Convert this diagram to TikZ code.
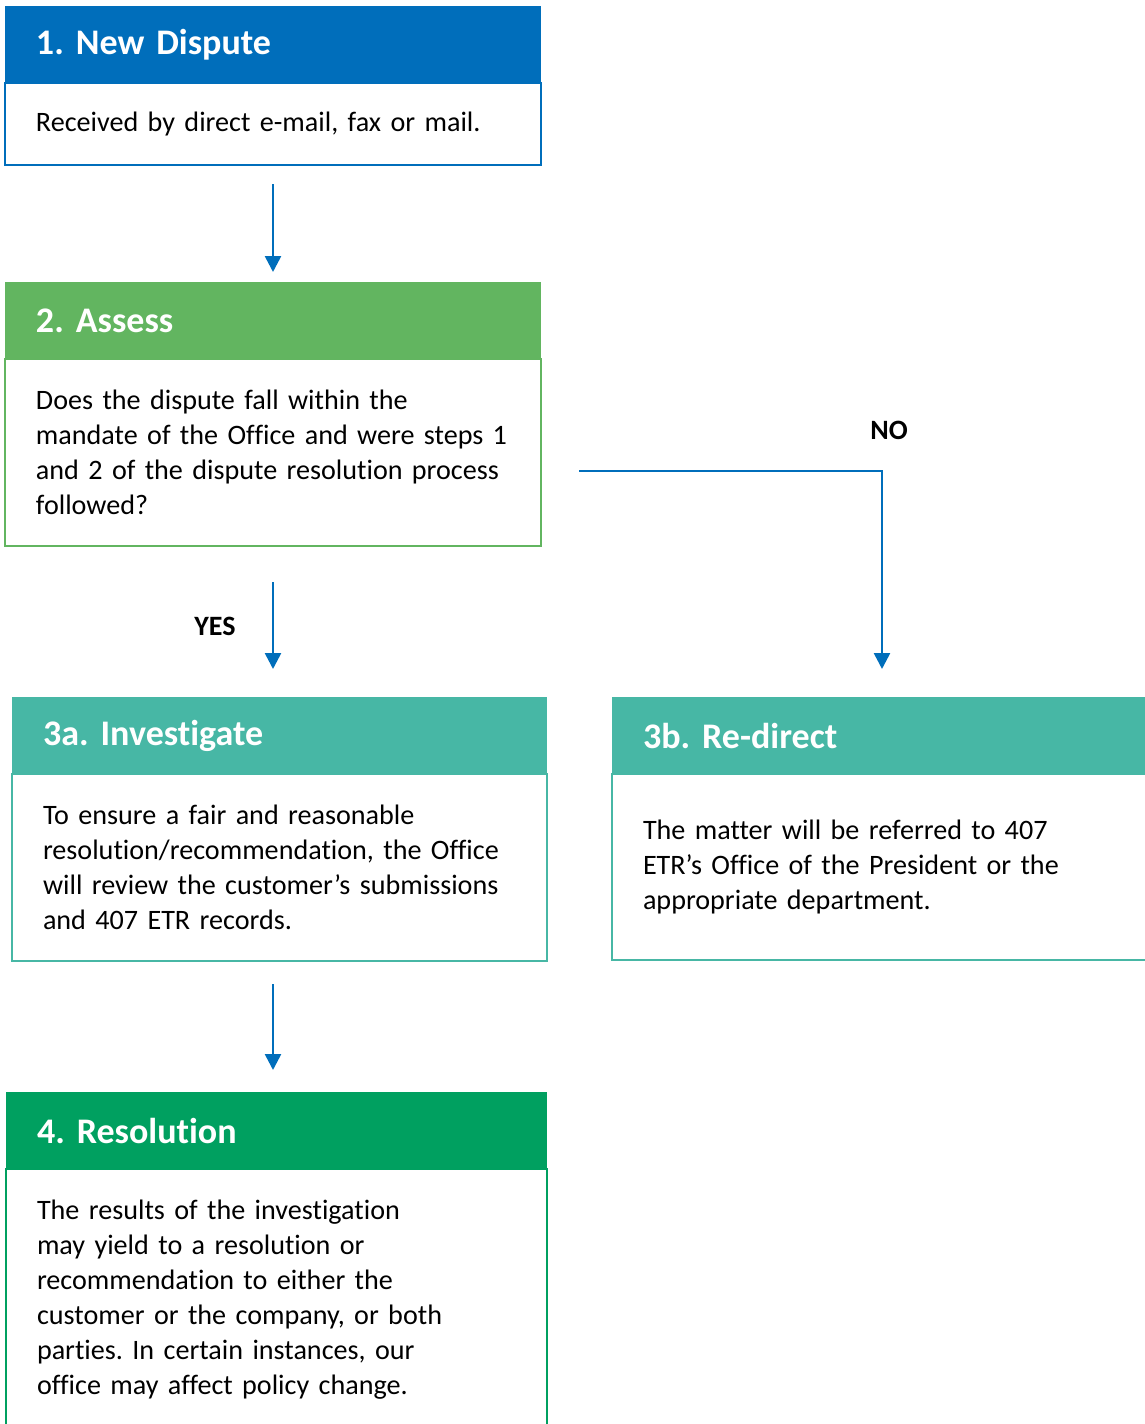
\documentclass[tikz,border=0pt]{standalone}
\usepackage{fontspec}
\setmainfont{Carlito}[Ligatures=NoCommon]
\usetikzlibrary{positioning,arrows.meta}

\definecolor{stepblue}{RGB}{0,110,187}
\definecolor{assessgreen}{RGB}{98,181,96}
\definecolor{stepteal}{RGB}{71,183,165}
\definecolor{resgreen}{RGB}{0,160,96}
\newcommand{\pxu}{0.75pt}

\tikzset{
  head/.style={fill=#1, text=white, font=\fontsize{27}{31}\selectfont\bfseries,
    anchor=north west, align=left, inner xsep=31*\pxu, inner ysep=0pt,
    minimum height=77*\pxu, outer sep=0pt},
  body/.style={draw=#1, fill=white, font=\fontsize{21.1}{26.25}\selectfont,
    anchor=north, align=left, inner xsep=31*\pxu, inner ysep=0pt, outer sep=0pt},
  flow/.style={draw=stepblue, line width=2.6*\pxu, -{Triangle[length=16*\pxu, width=16*\pxu]}},
  answer/.style={font=\fontsize{21}{24}\selectfont\bfseries}
}

\begin{document}
\frenchspacing
\begin{tikzpicture}[x=0.75pt, y=-0.75pt]
    \useasboundingbox (0,0) rectangle (1145,1424);

    % 1. new dispute
    \node[head=stepblue, text width=474*\pxu] (head1) at (5,6) {1. New Dispute};
    \node[body=stepblue, line width=2.5*\pxu, text width=474*\pxu, minimum height=82*\pxu,
      below=0pt of head1] (body1) {Received by direct e-mail, fax or mail.};

    % 2. assess
    \node[head=assessgreen, text width=474*\pxu] (head2) at (5,282) {2. Assess};
    \node[body=assessgreen, line width=1.6*\pxu, text width=474*\pxu, minimum height=187*\pxu,
      below=0pt of head2] (body2) {Does the dispute fall within the\\
      \mbox{mandate of the Office and were steps 1}\\
      \mbox{and 2 of the dispute resolution process}\\
      followed?};

    % 3a / 3b
    \node[head=stepteal, text width=473*\pxu] (head3a) at (12,697) {3a. Investigate};
    \node[body=stepteal, line width=2*\pxu, text width=473*\pxu, minimum height=187*\pxu,
      below=0pt of head3a] (body3a) {To ensure a fair and reasonable\\
      resolution/recommendation, the Office\\
      will review the customer’s submissions\\
      and 407 ETR records.};

    \node[head=stepteal, text width=478*\pxu] (head3b) at (612,697) {3b. Re-direct};
    \node[body=stepteal, line width=2*\pxu, text width=478*\pxu, minimum height=186*\pxu,
      below=0pt of head3b] (body3b) {The matter will be referred to 407\\
      ETR’s Office of the President or the\\
      appropriate department.};

    % 4. resolution
    \node[head=resgreen, text width=479*\pxu] (head4) at (6,1092) {4. Resolution};
    \node[body=resgreen, line width=2.5*\pxu, text width=479*\pxu, minimum height=262*\pxu,
      below=0pt of head4] (body4) {The results of the investigation\\
      may yield to a resolution or\\
      recommendation to either the\\
      customer or the company, or both\\
      parties. In certain instances, our\\
      office may affect policy change.};

    % connectors
    \draw[flow, shorten <=19*\pxu, shorten >=10*\pxu] (body1.south) -- (head2.north);
    \draw[flow, shorten <=36*\pxu, shorten >=28*\pxu] (body2.south) -- (body2.south |- head3a.north);
    \draw[flow, shorten <=23*\pxu, shorten >=22*\pxu] (body3a.south -| body2.south) -- (head4.north -| body2.south);
    \coordinate (nostart) at (579,471);
    \draw[flow, shorten >=28*\pxu] (nostart) -| (head3b.north);

    \node[answer] (yes) at (215,626) {YES};
    \node[answer] (no) at (889,430) {NO};
\end{tikzpicture}
\end{document}
